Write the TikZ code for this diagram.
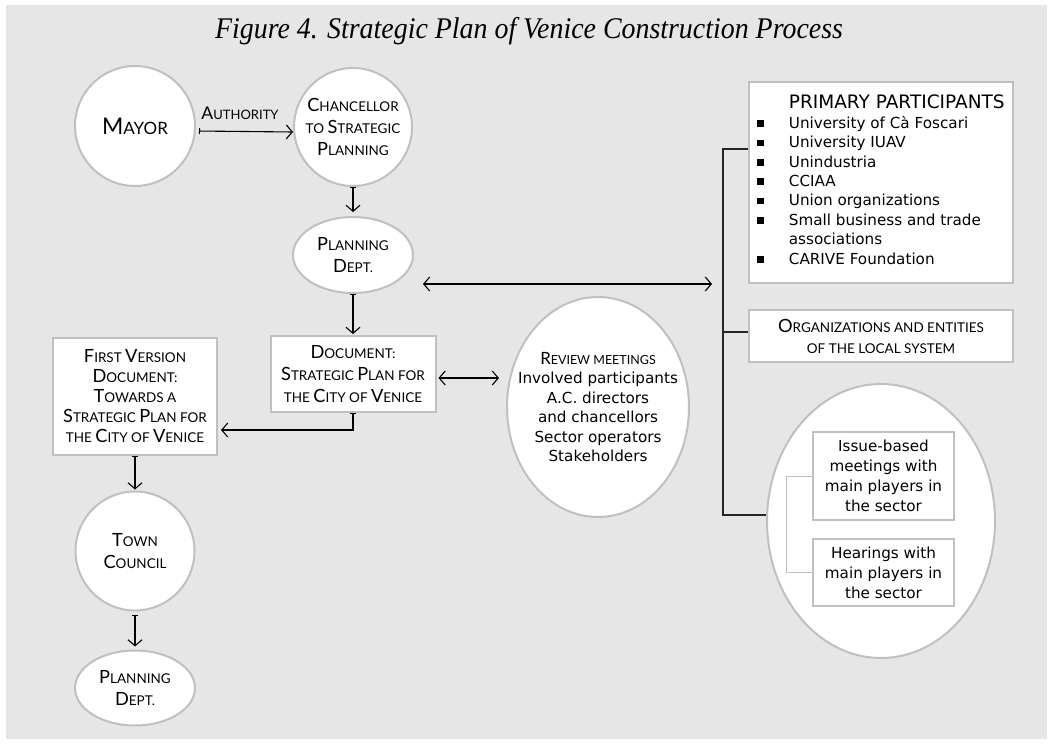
\documentclass[tikz,border=0pt]{standalone}
\usepackage{fontspec}
\usepackage{graphicx}
\setmainfont{Liberation Serif}
\newfontfamily\txt{DejaVu Sans}
\newfontfamily\scf{Lato}
\usetikzlibrary{arrows.meta,shapes.geometric}
\definecolor{panel}{RGB}{230,230,230}
\definecolor{bord}{RGB}{192,192,192}
\newcommand\K[1]{\scalebox{1.35}{#1}}
\newcommand\blt{\rule[1.5pt]{6.5pt}{6.5pt}}
\begin{document}
\begin{tikzpicture}[x=1pt,y=-1pt,
  shp/.style={draw=bord, line width=2pt, fill=white, inner sep=0pt},
  circ/.style={shp, circle},
  ell/.style={shp, ellipse},
  box/.style={shp, rectangle, align=center},
  sc/.style={font=\scf\fontsize{13.5}{22}\selectfont, align=center, inner sep=0pt},
  tx/.style={font=\txt\fontsize{15.2}{19.4}\selectfont, align=center},
  arr/.style={draw=black, line width=1.1pt, {Bar[width=6pt,line width=1pt]}-{Straight Barb[length=6pt,width=14pt,line width=1.1pt]}},
  darr/.style={draw=black, line width=1.1pt, {Straight Barb[length=6pt,width=14pt,line width=1.1pt]}-{Straight Barb[length=6pt,width=14pt,line width=1.1pt]}},
  conn/.style={draw=black!85, line width=1.1pt},
  gline/.style={draw=bord, line width=1pt}
]
\useasboundingbox (0,0) rectangle (1053,744);
\fill[panel] (6,5) rectangle (1047,739);

\node[font=\fontsize{30}{32}\selectfont\itshape] (title) at (529,31) {\scalebox{0.93}[1]{Figure 4. Strategic Plan of Venice Construction Process}};

% left column shapes
\node[circ, minimum size=120pt, label={[sc, font=\scf\fontsize{17}{20}\selectfont]center:\K{M}AYOR}] (mayor) at (135,126) {};
\node[circ, minimum size=118pt, label={[sc]center:\K{C}HANCELLOR\\TO \K{S}TRATEGIC\\\K{P}LANNING}] (chanc) at (353,127) {};
\node[ell, minimum width=120pt, minimum height=76pt, label={[sc]center:\K{P}LANNING\\\K{D}EPT.}] (plan1) at (353,255) {};
\node[box, minimum width=165pt, minimum height=76pt, sc] (doc) at (353,374) {\K{D}OCUMENT:\\\K{S}TRATEGIC \K{P}LAN FOR\\THE \K{C}ITY OF \K{V}ENICE};
\node[ell, minimum width=182pt, minimum height=220pt, label={[tx]center:{{\scf\fontsize{12.5}{19.4}\selectfont\K{R}EVIEW MEETINGS}\\Involved participants\\A.C. directors\\and chancellors\\Sector operators\\Stakeholders}}] (review) at (598,407) {};
\node[box, minimum width=164pt, minimum height=117pt, sc, font=\scf\fontsize{13.5}{20}\selectfont] (first) at (135,396.5) {\K{F}IRST \K{V}ERSION\\\K{D}OCUMENT:\\\K{T}OWARDS A\\\K{S}TRATEGIC \K{P}LAN FOR\\THE \K{C}ITY OF \K{V}ENICE};
\node[circ, minimum size=119pt, label={[sc]center:\K{T}OWN\\\K{C}OUNCIL}] (town) at (135,551) {};
\node[ell, minimum width=120pt, minimum height=75pt, label={[sc]center:\K{P}LANNING\\\K{D}EPT.}] (plan2) at (135,688) {};

% right column shapes
\node[box, minimum width=264pt, minimum height=201pt, tx, align=left] (primary) at (881,182.5) {%
\begin{tabular}{@{}l@{\hspace{25pt}}l@{}}
 & {\fontsize{18.5}{19.4}\selectfont PRIMARY PARTICIPANTS}\\
\blt & University of Cà Foscari\\
\blt & University IUAV\\
\blt & Unindustria\\
\blt & CCIAA\\
\blt & Union organizations\\
\blt & Small business and trade\\
 & associations\\
\blt & CARIVE Foundation
\end{tabular}};
\node[box, minimum width=264pt, minimum height=52pt, sc, font=\scf\fontsize{13.5}{21}\selectfont] (orgs) at (881,336) {\K{O}RGANIZATIONS AND ENTITIES\\OF THE LOCAL SYSTEM};
\node[ell, minimum width=228pt, minimum height=274pt] (bigell) at (881,521) {};
\node[box, minimum width=141pt, minimum height=88pt, tx, font=\txt\fontsize{15.2}{20}\selectfont] (issue) at (883.5,476) {Issue-based\\meetings with\\main players in\\the sector};
\node[box, minimum width=141pt, minimum height=67pt, tx, font=\txt\fontsize{15.2}{20}\selectfont] (hear) at (883.5,572.5) {Hearings with\\main players in\\the sector};

% label
\node[sc, font=\scf\fontsize{13}{20}\selectfont] (auth) at (240,113) {\K{A}UTHORITY};

% connectors
\draw[arr, shorten <=3pt] ([yshift=-5pt]mayor.east) -- ([yshift=-5pt]chanc.west);
\draw[arr, shorten >=4pt] (chanc.south) -- (plan1.north);
\draw[arr, shorten >=1pt] (plan1.south) -- (doc.north);
\draw[darr, shorten <=2pt, shorten >=7pt] ([yshift=-4pt]doc.east) -- ([yshift=-4pt]doc.east -| review.west);
\coordinate (pa) at (423,284);
\coordinate (s1) at (723,149);
\coordinate (s2) at (723,332);
\coordinate (s3) at (723,515);
\draw[darr, shorten >=11pt] (pa) -- (pa -| s1);
\draw[conn] (primary.west |- s1) -- (s1) -- (s3) -- (bigell.west |- s3);
\draw[conn] (s2) -- (orgs.west |- s2);
\coordinate (dj) at (353,430);
\draw[arr, shorten >=3pt] (doc.south) -- (dj) -- (dj -| first.east);
\draw[arr, shorten >=1pt] (first.south) -- (town.north);
\draw[arr, shorten <=3pt, shorten >=3pt] (town.south) -- (plan2.north);
\draw[gline] (issue.west) -- ++(-26,0) |- (hear.west);
\end{tikzpicture}
\end{document}
